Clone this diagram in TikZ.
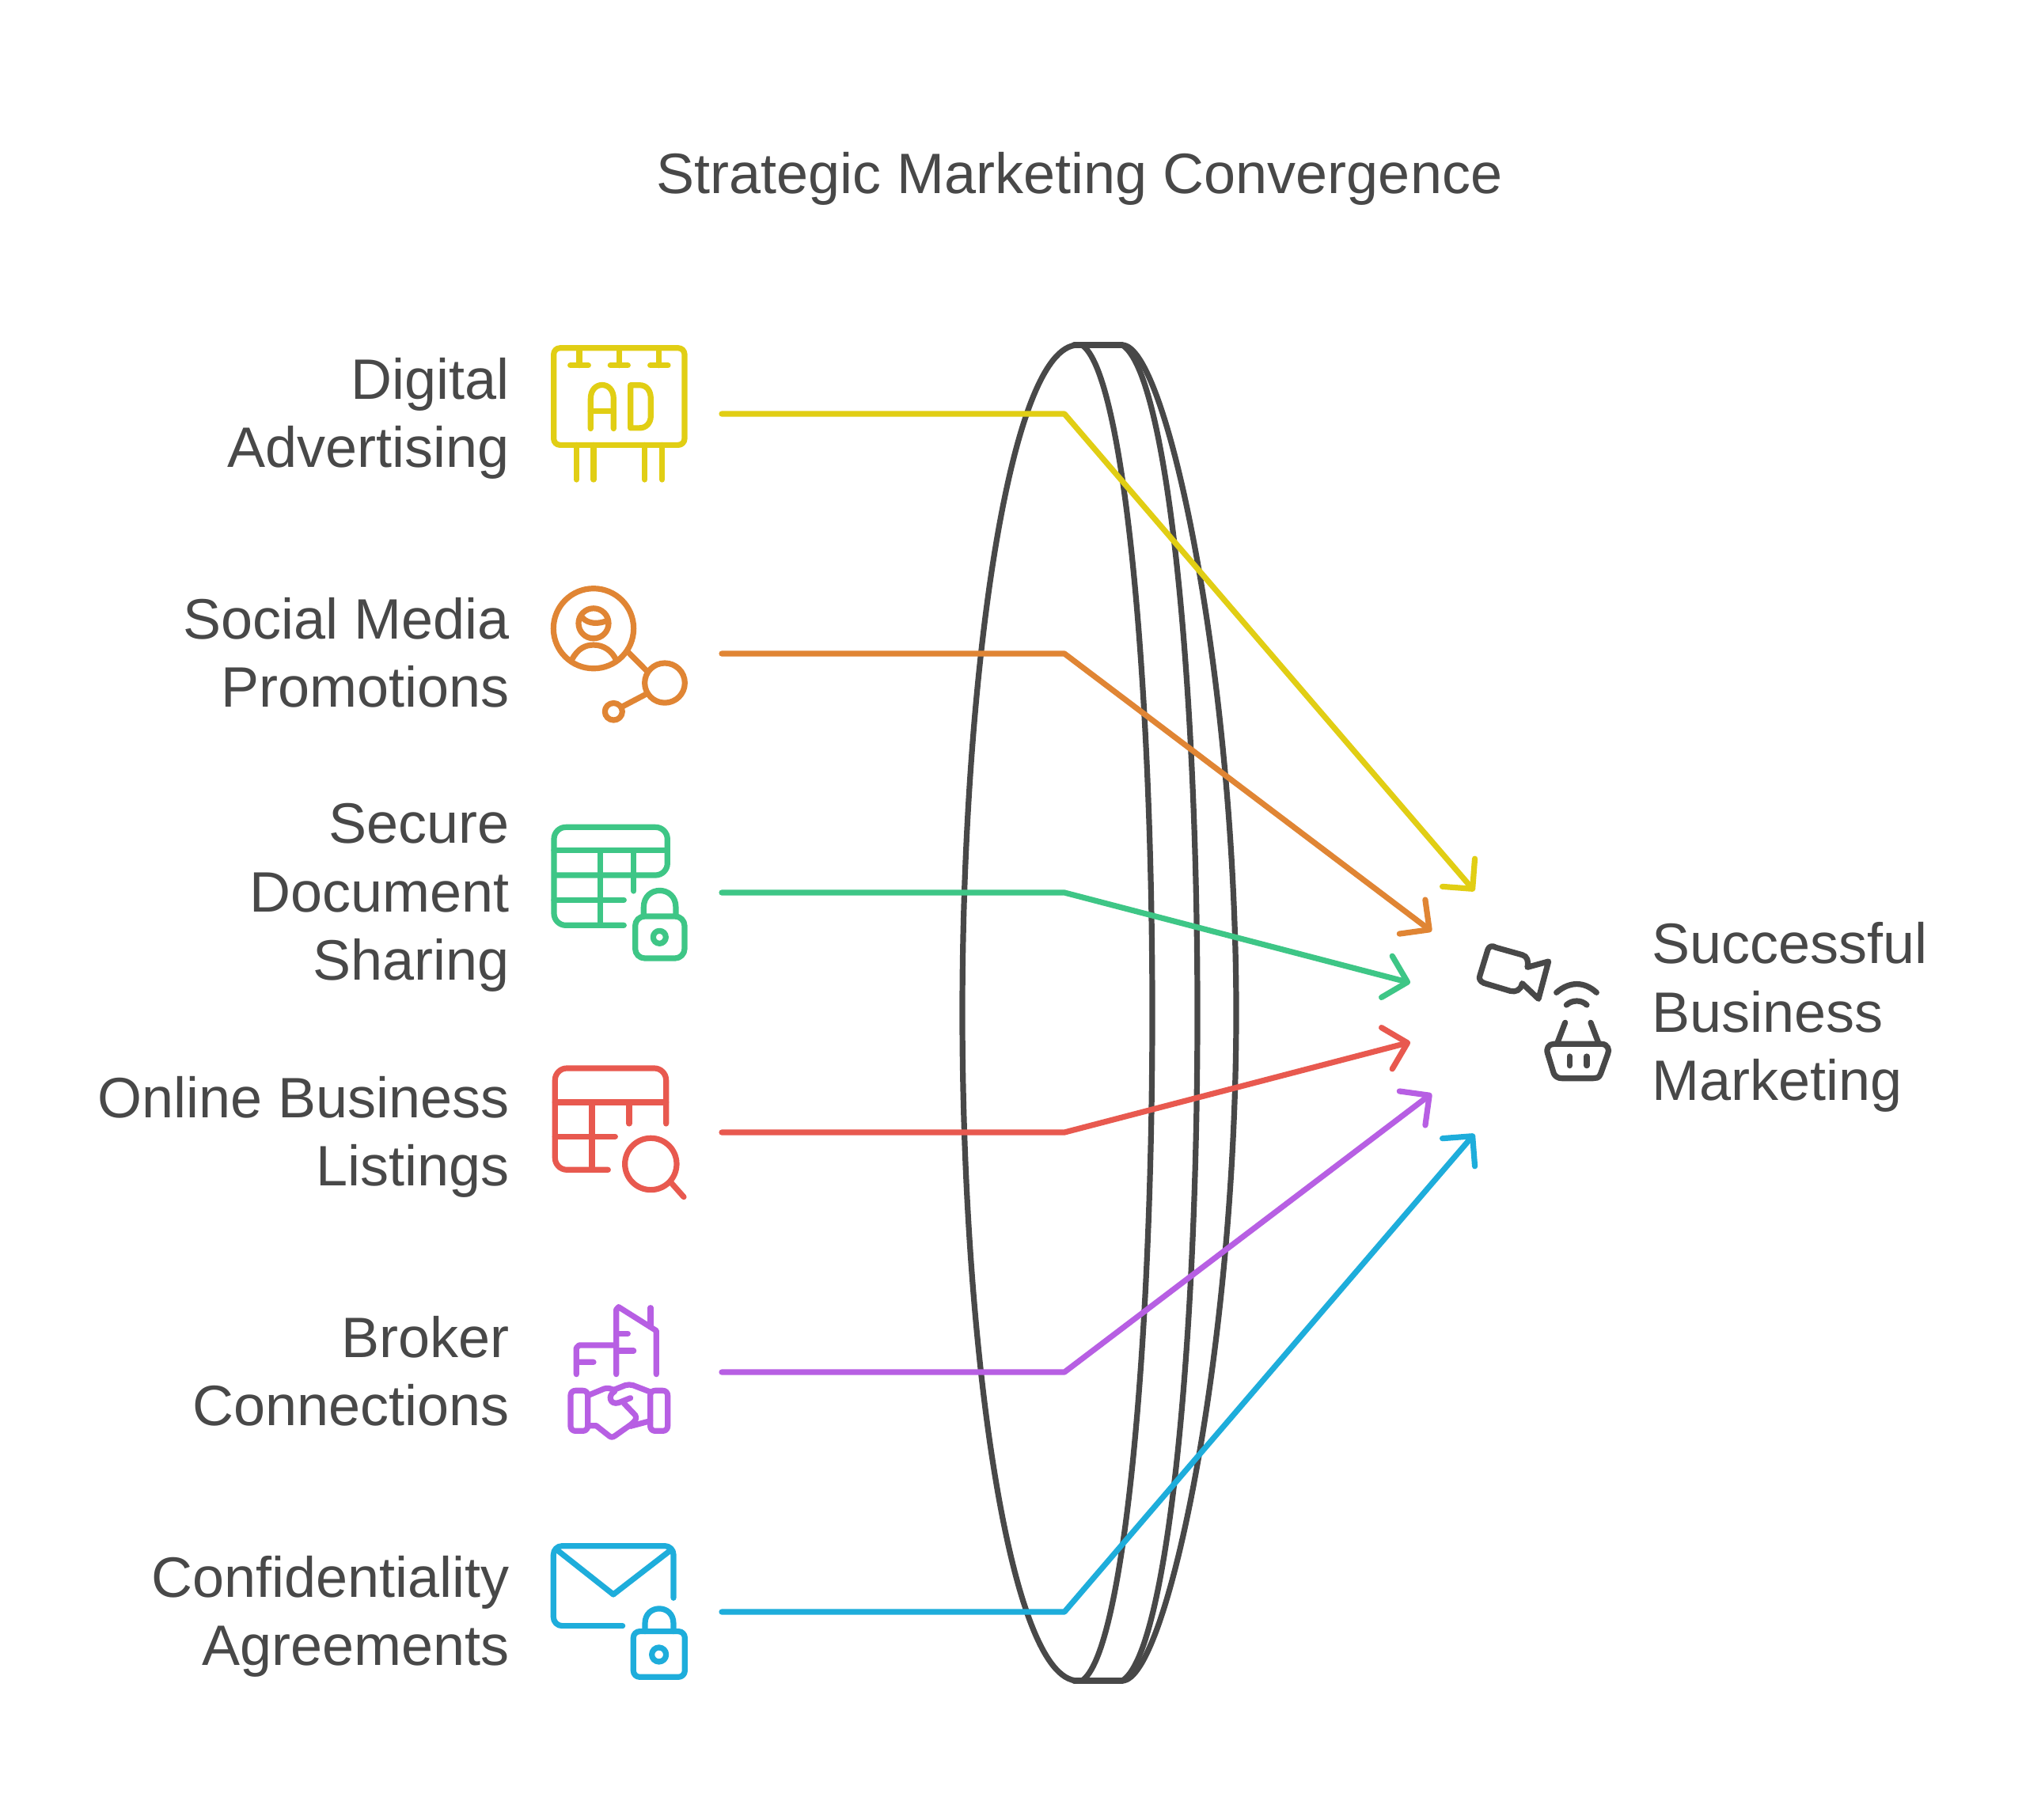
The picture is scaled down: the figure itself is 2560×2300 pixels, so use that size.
\documentclass[tikz,border=0pt]{standalone}
\usepackage{fontspec}
\setmainfont{Liberation Sans}
\usetikzlibrary{arrows.meta}
\definecolor{cyel}{HTML}{E1CE14}
\definecolor{cora}{HTML}{E08534}
\definecolor{cgrn}{HTML}{3EC686}
\definecolor{cred}{HTML}{E8594F}
\definecolor{cpur}{HTML}{B75FE3}
\definecolor{cblu}{HTML}{1EADDB}
\definecolor{cgry}{HTML}{484848}
\newcommand{\sr}{\rule[-26pt]{0pt}{86.5pt}}
\tikzset{
  ic/.style={line width=7.2pt,line cap=round,line join=round,fill=none},
  lbl/.style={text=cgry,inner sep=0pt,yshift=-7pt,font=\fontsize{72}{86.5}\selectfont},
  lleft/.style={lbl,anchor=east,align=right},
  lright/.style={lbl,anchor=west,align=left},
  conn/.style={line width=7.2pt,line cap=round,line join=round,-{Straight Barb[round,length=27pt,width=54pt]}},
  zoomA/.style={shift={(660,400)},xscale=0.3333,yscale=0.3584},
  zoomB/.style={shift={(660,1030)},xscale=0.3333,yscale=0.3333},
  zoomC/.style={shift={(680,1630)},xscale=0.3333,yscale=0.3333},
  zoomD/.style={shift={(1760,1060)},xscale=0.3333,yscale=0.3333},
}
\begin{document}
\begin{tikzpicture}[x=1pt,y=-1pt]
\useasboundingbox (0,0) rectangle (2560,2300);
\fill[white] (0,0) rectangle (2560,2300);

\node[lbl,anchor=center] (title) at (1364,220) {\sr Strategic Marketing Convergence};
\node[lleft] (l1) at (644,523) {\sr Digital\\\sr Advertising};
\node[lleft] (l2) at (644,826) {\sr Social Media\\\sr Promotions};
\node[lleft] (l3) at (644,1128) {\sr Secure\\\sr Document\\\sr Sharing};
\node[lleft] (l4) at (644,1431) {\sr Online Business\\\sr Listings};
\node[lleft] (l5) at (644,1734) {\sr Broker\\\sr Connections};
\node[lleft] (l6) at (644,2037) {\sr Confidentiality\\\sr Agreements};
\node[lright] (res) at (2087,1280) {\sr Successful\\\sr Business\\\sr Marketing};

% lens
\begin{scope}[ic,draw=cgry]
\draw (1357,436) -- (1418,436);
\draw (1357,2124) -- (1418,2124);
\draw (1362,436) .. controls (1275,436) and (1216,860) .. (1216,1280) .. controls (1216,1700) and (1275,2124) .. (1362,2124);
\draw (1367,436) .. controls (1420,470) and (1456,860) .. (1456,1280) .. controls (1456,1700) and (1420,2090) .. (1367,2124);
\draw (1418,436) .. controls (1475,470) and (1513,860) .. (1513,1280) .. controls (1513,1700) and (1475,2090) .. (1418,2124);
\draw (1418,436) .. controls (1475,436) and (1562,860) .. (1562,1280) .. controls (1562,1700) and (1475,2124) .. (1418,2124);
\end{scope}

% icon 1: billboard
\begin{scope}[zoomA,ic,draw=cyel]
\draw[rounded corners=8pt] (119,111) rectangle (615,453);
\draw (216,111) -- (216,172) (368,111) -- (368,172) (518,111) -- (518,172);
\draw (182,172) -- (250,172) (334,172) -- (400,172) (485,172) -- (552,172);
\draw (259,395) -- (259,290) .. controls (259,225) and (346,225) .. (346,290) -- (346,395);
\draw (259,333) -- (346,333);
\draw (410,242) -- (410,393) -- (445,393) .. controls (470,393) and (487,375) .. (487,350) -- (487,290) .. controls (487,260) and (470,242) .. (445,242) -- cycle;
\draw (205,453) -- (205,575) (270,453) -- (270,575) (464,453) -- (464,575) (530,453) -- (530,575);
\end{scope}

% icon 2: person network
\begin{scope}[zoomA,ic,draw=cora]
\draw (270,1100) ellipse [x radius=152,y radius=141];
\draw (270,1082) ellipse [x radius=57,y radius=53];
\draw (228,1062) .. controls (250,1085) and (290,1085) .. (322,1072);
\draw (188,1210) .. controls (210,1170) and (240,1158) .. (270,1158) .. controls (310,1158) and (340,1180) .. (355,1210);
\draw (403,1185) -- (470,1248);
\draw (540,1292) ellipse [x radius=76,y radius=70];
\draw (468,1332) -- (380,1375);
\draw (346,1393) ellipse [x radius=33,y radius=30];
\end{scope}

% icon 3: table + lock
\begin{scope}[zoomB,ic,draw=cgrn]
\draw[rounded corners=15pt] (385,418) -- (120,418) -- (120,46) -- (550,46) -- (550,228) -- (120,228);
\draw (120,134) -- (550,134) (120,322) -- (385,322);
\draw (296,134) -- (296,418) (422,134) -- (422,288);
\draw[rounded corners=12pt] (428,384) rectangle (615,543);
\draw (460,384) -- (460,350) .. controls (460,265) and (582,265) .. (582,350) -- (582,384);
\draw (520,463) circle [radius=24];
\end{scope}

% icon 4: table + magnifier
\begin{scope}[zoomB,ic,draw=cred]
\draw[rounded corners=15pt] (325,1345) -- (124,1345) -- (124,960) -- (545,960) -- (545,1170);
\draw (124,1089) -- (545,1089) (124,1219) -- (352,1219);
\draw (264,1089) -- (264,1345) (405,1089) -- (405,1170);
\draw (487,1323) circle [radius=98];
\draw (565,1395) -- (612,1448);
\end{scope}

% icon 5: building + handshake
\begin{scope}[zoomC,ic,draw=cpur]
\draw (296,320) -- (296,75) -- (305,65) -- (448,155) -- (448,320);
\draw (426,68) -- (426,140);
\draw (296,166) -- (340,166) (296,231) -- (362,231);
\draw (145,320) -- (145,220) -- (155,210) -- (296,210) (145,274) -- (210,274);
\draw[rounded corners=6pt] (123,382) rectangle (188,535);
\draw[rounded corners=6pt] (425,382) rectangle (491,535);
\draw (190,400) -- (250,375) .. controls (265,370) and (278,375) .. (290,382);
\draw (290,378) -- (330,362) .. controls (340,358) and (350,360) .. (360,362) -- (425,387);
\draw (350,410) -- (305,428) .. controls (272,438) and (262,400) .. (290,385);
\draw (325,430) -- (368,475) .. controls (378,488) and (365,500) .. (350,512) -- (292,553) .. controls (282,560) and (276,560) .. (268,553) -- (220,515) -- (190,515);
\draw (350,517) -- (425,497);
\end{scope}

% icon 6: envelope + lock
\begin{scope}[zoomC,ic,draw=cblu]
\draw[rounded corners=11pt] (513,1168) -- (513,971) -- (58,971) -- (58,1274) -- (320,1274);
\draw (70,985) -- (285,1155) -- (505,985);
\draw[rounded corners=8pt] (361,1295) rectangle (556,1468);
\draw (405,1295) -- (405,1265) .. controls (405,1190) and (513,1190) .. (513,1265) -- (513,1295);
\draw (458,1383) circle [radius=27];
\end{scope}

% icon 7: camera + basket
\begin{scope}[zoomD,ic,draw=cgry]
\draw (510,487) -- (590,465) -- (552,607) -- (490,548) .. controls (485,575) and (465,582) .. (445,577) -- (345,547) .. controls (330,540) and (325,530) .. (330,518) -- (360,420) .. controls (365,405) and (380,405) .. (390,412) -- (490,440) .. controls (510,445) and (515,465) .. (510,487) -- cycle;
\draw (620,583) .. controls (670,540) and (725,540) .. (772,583);
\draw (658,630) .. controls (680,610) and (715,610) .. (735,630);
\draw (653,697) -- (625,770) (750,697) -- (778,770);
\draw (610,778) -- (790,778) .. controls (815,778) and (822,800) .. (815,815) -- (788,890) .. controls (782,908) and (770,908) .. (760,908) -- (640,908) .. controls (625,908) and (615,900) .. (610,890) -- (587,815) .. controls (580,795) and (590,778) .. (610,778) -- cycle;
\draw (670,825) -- (670,860) (735,825) -- (735,860);
\end{scope}

% connectors
\coordinate (s1) at (912,523); \coordinate (b1) at (1345,523); \coordinate (e1) at (1863,1126);
\coordinate (s2) at (912,826); \coordinate (b2) at (1345,826); \coordinate (e2) at (1809,1177);
\coordinate (s3) at (912,1128); \coordinate (b3) at (1345,1128); \coordinate (e3) at (1782,1242);
\coordinate (s4) at (912,1431); \coordinate (b4) at (1345,1431); \coordinate (e4) at (1782,1317);
\coordinate (s5) at (912,1734); \coordinate (b5) at (1345,1734); \coordinate (e5) at (1809,1382);
\coordinate (s6) at (912,2037); \coordinate (b6) at (1345,2037); \coordinate (e6) at (1863,1433);
\draw[conn,draw=cyel] (s1) -- (b1) -- (e1);
\draw[conn,draw=cora] (s2) -- (b2) -- (e2);
\draw[conn,draw=cgrn] (s3) -- (b3) -- (e3);
\draw[conn,draw=cred] (s4) -- (b4) -- (e4);
\draw[conn,draw=cpur] (s5) -- (b5) -- (e5);
\draw[conn,draw=cblu] (s6) -- (b6) -- (e6);
\end{tikzpicture}
\end{document}
